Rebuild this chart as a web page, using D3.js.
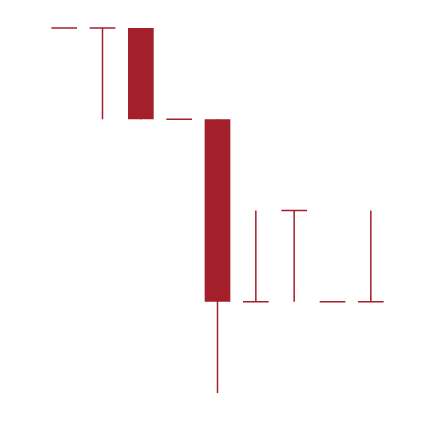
<!DOCTYPE html>
<html><head><meta charset="utf-8">
<script src="https://cdn.jsdelivr.net/npm/d3@7"></script>
<style>html,body{margin:0;padding:0;background:#fff;}</style>
</head><body>
<svg id="chart" width="434" height="422"></svg>
<script>
const categories = ["1","2","3","4","5","6","7","8","9"];
const open  = [4, 4, 4, 3, 3, 1, 2, 1, 1];
const high  = [4, 4, 4, 3, 3, 2, 2, 1, 2];
const low   = [4, 3, 3, 3, 0, 1, 1, 1, 1];
const close = [4, 4, 3, 3, 1, 1, 2, 1, 1];

const color = "#a31f2a";
const svg = d3.select("#chart");
const x = d3.scaleBand().domain(categories).range([45, 390]).paddingInner(0.33).paddingOuter(0.165);
const y = d3.scaleLinear().domain([0, 4]).range([393, 28]);

const data = categories.map((c, i) => ({c, o: open[i], h: high[i], l: low[i], cl: close[i]}));
const g = svg.append("g");
const bw = x.bandwidth();

data.forEach(d => {
  const cx = x(d.c) + bw / 2;
  // wick
  if (d.h !== d.l) {
    g.append("line").attr("x1", cx).attr("x2", cx)
      .attr("y1", y(d.h)).attr("y2", y(d.l))
      .attr("stroke", color).attr("stroke-width", 1.5);
  }
  const top = Math.max(d.o, d.cl), bot = Math.min(d.o, d.cl);
  if (top === bot) {
    g.append("line").attr("x1", x(d.c)).attr("x2", x(d.c) + bw)
      .attr("y1", y(top)).attr("y2", y(top))
      .attr("stroke", color).attr("stroke-width", 1.5);
  } else {
    g.append("rect").attr("x", x(d.c)).attr("width", bw)
      .attr("y", y(top)).attr("height", y(bot) - y(top))
      .attr("fill", color);
  }
});
</script>
</body></html>
